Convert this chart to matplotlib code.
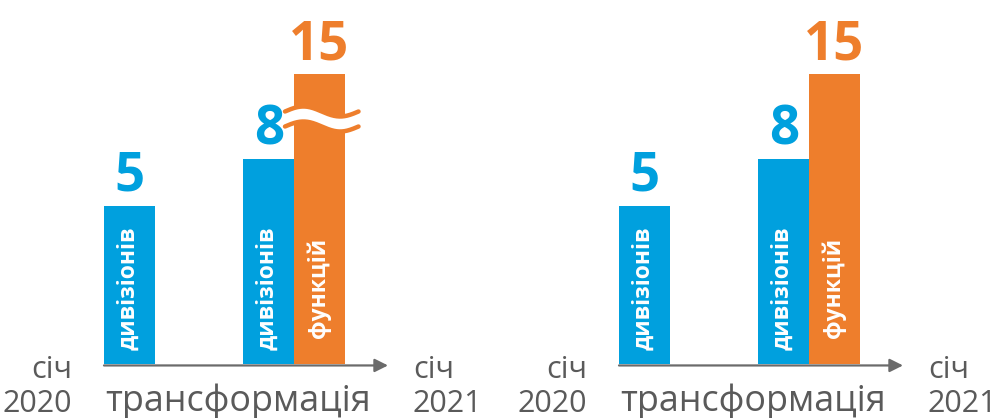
import numpy as np
import matplotlib
matplotlib.use("Agg")
import matplotlib.pyplot as plt
from matplotlib.transforms import blended_transform_factory

# ---- data -------------------------------------------------------------
bar_labels = ["дивізіонів", "дивізіонів", "функцій"]
bar_values = [5, 8, 15]
start_label = ["січ", "2020"]
end_label = ["січ", "2021"]
period_label = "трансформація"

# ---- style ------------------------------------------------------------
BLUE = "#00A0DE"
ORANGE = "#EE7E2C"
GREY_TEXT = "#5A5A5A"
GREY_AXIS = "#6B6B6B"
colour_of = {"дивізіонів": BLUE, "функцій": ORANGE}
slots = [0.0, 2.75, 3.75]          # bar centres, in bar-width units
FONT = ["Open Sans", "DejaVu Sans"]
plt.rcParams["font.family"] = FONT

W, H, DPI = 995, 418, 100
POWER = 0.55                       # compressed (non-linear) value axis
PX_PER_UNIT = 65.3


def fwd(v):
    return np.power(np.clip(v, 0, None), POWER)


def inv(f):
    return np.power(np.clip(f, 0, None), 1.0 / POWER)


fig = plt.figure(figsize=(W / DPI, H / DPI), dpi=DPI)
fig.patch.set_facecolor("white")

ax_w, ax_h, base = 284, 364, 54


def panel(left_px, broken):
    ax = fig.add_axes([left_px / W, base / H, ax_w / W, ax_h / H])
    ax.patch.set_alpha(0)
    ax.set_yscale("function", functions=(fwd, inv))
    ax.set_xlim(-0.5, -0.5 + ax_w / 50.7)
    ax.set_ylim(0, inv(ax_h / PX_PER_UNIT))
    for s in ax.spines.values():
        s.set_visible(False)
    ax.set_xticks([])
    ax.set_yticks([])
    ax.minorticks_off()

    cols = [colour_of[c] for c in bar_labels]
    ax.bar(slots, bar_values, width=1.0, color=cols, linewidth=0, zorder=2)

    for x, v, lab, c in zip(slots, bar_values, bar_labels, cols):
        ax.annotate(str(v), (x, v), xytext=(0, 15), textcoords="offset pixels",
                    ha="center", va="baseline", fontsize=38, fontweight="bold",
                    color=c, annotation_clip=False, zorder=5)
        ax.annotate(lab, (x, 0), xytext=(-1, 76), textcoords="offset pixels",
                    ha="center", va="center", rotation=90, fontsize=16.5,
                    fontweight="bold", color="white", annotation_clip=False,
                    zorder=5)

    # time axis with arrow head
    ax.annotate("", xy=(1, -0.004), xytext=(0, -0.004), xycoords="axes fraction",
                arrowprops=dict(arrowstyle="-|>", color=GREY_AXIS, lw=1.6,
                                mutation_scale=20, shrinkA=0, shrinkB=0),
                annotation_clip=False, zorder=3)

    txt = dict(textcoords="offset pixels", xycoords="axes fraction",
               va="baseline", fontsize=22, color=GREY_TEXT,
               annotation_clip=False)
    ax.annotate(start_label[0], (0, 0), xytext=(-32, -14), ha="right", **txt)
    ax.annotate(start_label[1], (0, 0), xytext=(-32, -48), ha="right", **txt)
    ax.annotate(end_label[0], (1, 0), xytext=(25, -14), ha="left", **txt)
    ax.annotate(end_label[1], (1, 0), xytext=(25, -48), ha="left", **txt)
    ax.annotate(period_label, (0, 0), xytext=(1, -47), ha="left",
                **{**txt, "fontsize": 25.8})

    if broken:
        # wavy break mark across the tallest bar
        tr = blended_transform_factory(ax.transData, ax.transAxes)
        xb = slots[2]
        t = np.linspace(0, 1, 200)
        xs = xb - 0.68 + 1.45 * t
        amp = 5.0 / ax_h
        wave = amp * np.sin(2 * np.pi * t)
        mid = 245 / ax_h
        gap = 7.5 / ax_h
        upper = mid + gap + wave
        lower = mid - gap + wave
        ax.fill_between(xs, lower, upper, color="white", lw=0,
                        transform=tr, zorder=4)
        for yy in (upper, lower):
            ax.plot(xs, yy, color=ORANGE, lw=3.2, solid_capstyle="round",
                    transform=tr, zorder=4.5, clip_on=False)
    return ax


panel(104, broken=True)
panel(619, broken=False)

fig.savefig("out.png", dpi=DPI, facecolor="white")
